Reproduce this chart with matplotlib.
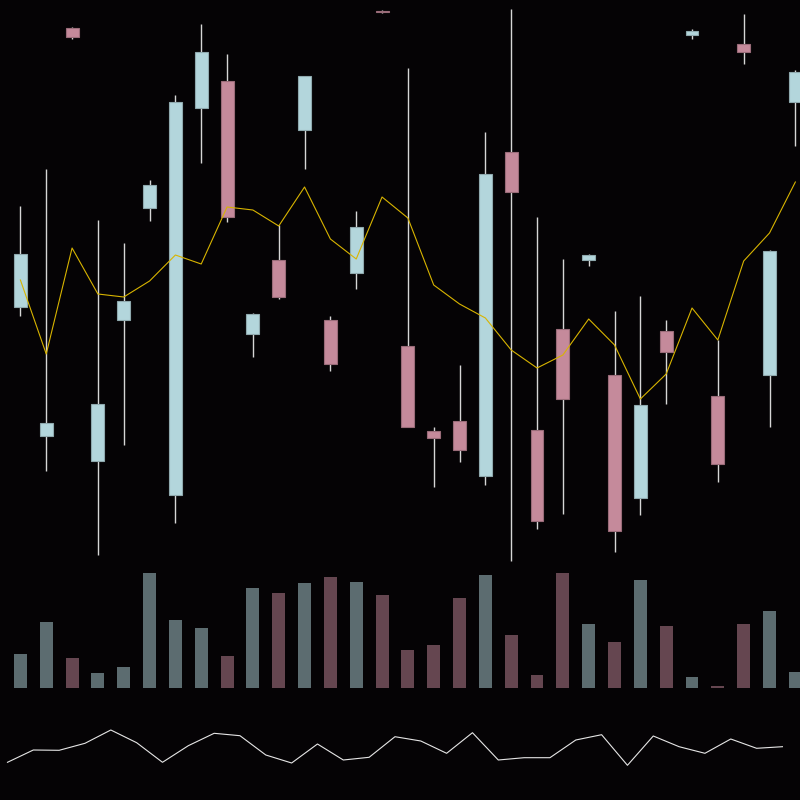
import numpy as np
import matplotlib
matplotlib.use('Agg')
import matplotlib.pyplot as plt

# ------------------ data
opens  = [75.3, 62.4, 103.2, 59.9, 74.0, 85.2, 56.5, 95.2, 97.9, 72.6,
          80.0, 93.0, 74.0, 78.7, 104.9, 71.4, 62.9, 63.9, 58.4, 90.8,
          63.0, 73.1, 80.0, 68.5, 56.2, 72.9, 102.5, 66.4, 101.6, 68.5, 95.8]
highs  = [85.4, 89.1, 103.3, 84.0, 81.7, 88.0, 96.5, 103.6, 100.6, 74.7,
          83.5, 98.4, 74.4, 84.9, 105.0, 99.2, 63.3, 69.5, 92.8, 105.1,
          84.3, 80.1, 80.6, 74.9, 76.4, 74.0, 103.1, 72.0, 104.6, 81.0, 99.0]
lows   = [74.4, 58.9, 102.1, 50.5, 61.5, 83.9, 53.7, 89.7, 83.8, 70.3,
          76.1, 89.1, 68.9, 77.1, 104.7, 63.3, 57.3, 59.8, 57.5, 49.9,
          53.1, 54.6, 79.4, 50.8, 54.5, 65.6, 102.1, 57.8, 99.6, 63.3, 91.4]
closes = [80.6, 63.7, 102.3, 65.6, 75.9, 87.5, 95.8, 100.8, 84.3, 74.6,
          76.3, 98.4, 69.6, 83.3, 104.8, 63.3, 62.2, 61.0, 88.6, 86.8,
          53.9, 66.1, 80.5, 52.9, 65.5, 70.8, 102.9, 59.6, 100.8, 80.9, 98.8]
mavg   = [78.0, 70.6, 81.2, 76.6, 76.3, 77.9, 80.5, 79.6, 85.3, 85.0,
          83.4, 87.3, 82.1, 80.1, 86.3, 84.2, 77.5, 75.6, 74.2, 71.0,
          69.2, 70.5, 74.1, 71.5, 66.1, 68.6, 75.2, 72.0, 79.9, 82.7, 87.8]
volume = [3370, 6600, 3030, 1470, 2100, 11470, 6800, 5970, 3170, 9970,
          9470, 10530, 11130, 10630, 9330, 3800, 4300, 9000, 11300, 5300,
          1270, 11470, 6400, 4570, 10800, 6200, 1070, 200, 6370, 7700, 1570]
osc    = [0.377, 0.500, 0.497, 0.567, 0.700, 0.573, 0.377, 0.543, 0.667, 0.643,
          0.450, 0.370, 0.560, 0.400, 0.427, 0.633, 0.590, 0.467, 0.673, 0.400,
          0.423, 0.423, 0.600, 0.653, 0.347, 0.640, 0.533, 0.467, 0.610, 0.517, 0.533]

UP = '#b3d6dc'
DOWN = '#c58a9b'
BG = '#050305'

t = np.arange(len(opens))
o = np.array(opens)
c = np.array(closes)
up = c >= o
cols = [UP if u else DOWN for u in up]
edges = ['#8fa9ae' if u else '#9a6c79' for u in up]

fig = plt.figure(figsize=(8, 8), dpi=100)
fig.patch.set_facecolor(BG)

# price panel
ax = fig.add_axes([0, 0.29, 1, 0.71])
ax.vlines(t, lows, highs, colors='#d6d6d6', lw=1, zorder=1)
ax.bar(t, c - o, bottom=o, width=0.5, color=cols, edgecolor=edges, lw=0.8, zorder=2)
ax.plot(t, mavg, color='#d8b400', lw=0.8, zorder=3)
ax.set_xlim(-0.79, 30.18)
ax.set_ylim(49.2, 106)

# volume panel
ax2 = fig.add_axes([0, 0.14, 1, 0.15])
ax2.bar(t, volume, width=0.5, color=cols, alpha=0.5, edgecolor='none')
ax2.set_xlim(-0.79, 30.18)
ax2.set_ylim(0, 12000)

# oscillator panel
ax3 = fig.add_axes([0, 0, 1, 0.125])
ax3.plot(t - 0.5, osc, color='#e6e6e6', lw=0.8)
ax3.set_xlim(-0.79, 30.18)
ax3.set_ylim(0, 1)

for a in [ax, ax2, ax3]:
  a.set_facecolor(BG)
  a.axis('off')

fig.savefig('out.png', dpi=100, facecolor=BG)
